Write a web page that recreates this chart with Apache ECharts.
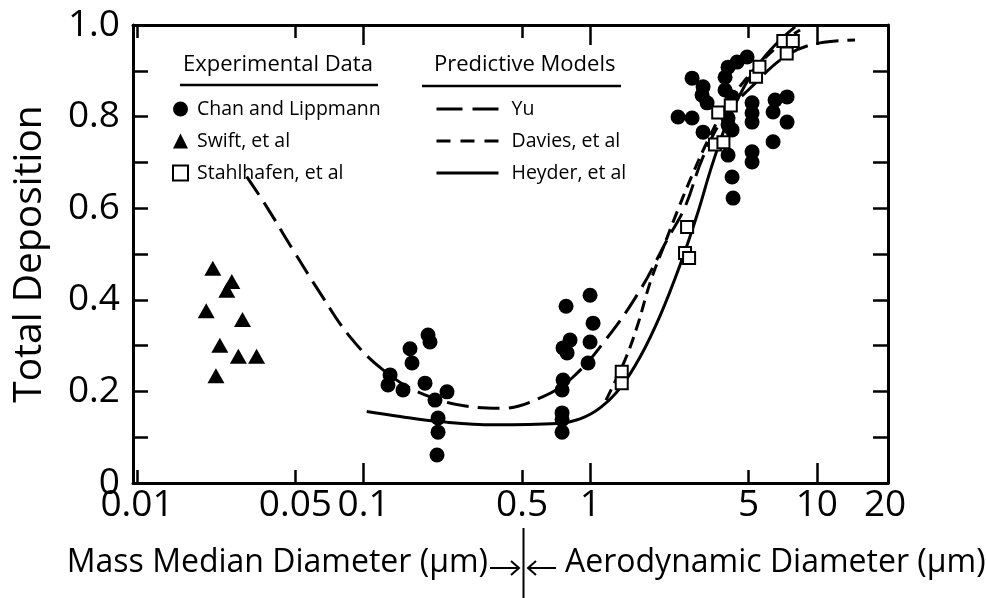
<!DOCTYPE html>
<html><head><meta charset="utf-8">
<script src="https://cdn.jsdelivr.net/npm/echarts@6/dist/echarts.min.js"></script>
<style>html,body{margin:0;padding:0;background:#fff}#c{width:986px;height:598px}</style>
</head><body><div id="c"></div>
<script>
// ---- data (x = particle diameter in µm, y = total deposition fraction) ----
const chanLippmann = [
  [0.1924,0.323],[0.1963,0.308],[0.1602,0.293],[0.1635,0.262],[0.1308,0.236],[0.1281,0.214],
  [0.1492,0.203],[0.1866,0.218],[0.2065,0.181],[0.2333,0.199],[0.2130,0.142],[0.2130,0.111],[0.2108,0.061],
  [0.998,0.410],[0.782,0.386],[1.029,0.349],[0.8145,0.312],[0.7586,0.295],[0.79,0.284],[0.998,0.308],
  [0.978,0.262],[0.7586,0.225],[0.751,0.203],[0.751,0.153],[0.751,0.138],[0.751,0.111],
  [2.814,0.884],[3.146,0.865],[3.114,0.847],[3.277,0.830],[2.44,0.799],[2.814,0.797],[3.146,0.766],
  [4.056,0.908],[4.445,0.919],[4.92,0.930],[3.935,0.886],[3.935,0.858],[4.225,0.843],[4.056,0.797],
  [4.056,0.782],[4.225,0.771],[4.056,0.716],[4.225,0.668],[4.268,0.622],[5.176,0.830],[5.176,0.808],
  [5.176,0.788],[5.176,0.723],[5.176,0.701],[6.54,0.836],[7.388,0.843],[6.409,0.810],[7.388,0.788],[6.409,0.745]
];
const swift = [
  [0.0216,0.469],[0.0262,0.440],[0.0249,0.421],[0.0202,0.376],[0.0292,0.357],
  [0.0232,0.301],[0.0280,0.277],[0.0337,0.277],[0.0223,0.234]
];
const stahlhafen = [
  [1.377,0.243],[1.377,0.218],[2.62,0.502],[2.675,0.559],[2.73,0.491],
  [3.55,0.739],[3.87,0.744],[3.67,0.809],[4.17,0.824],[5.39,0.887],[5.58,0.909],
  [7.11,0.965],[7.83,0.965],[7.36,0.938]
];
const yuModel = [
  [0.03048,0.669],[0.03735,0.603],[0.0488,0.509],[0.0642,0.415],[0.0871,0.319],[0.1218,0.247],
  [0.1774,0.197],[0.2948,0.1666],[0.4042,0.163],[0.616,0.188],[0.842,0.232],[1.183,0.316],
  [1.659,0.421],[2.183,0.531],[2.62,0.603],[3.146,0.712],[3.935,0.803],[5.074,0.862],
  [7.388,0.934],[10.33,0.961],[14.74,0.967]
];
const daviesModel = [
  [1.174,0.181],[1.424,0.269],[1.609,0.341],[1.836,0.437],[2.096,0.513],[2.416,0.592],
  [2.814,0.672],[3.311,0.749],[3.935,0.819],[4.823,0.880],[5.907,0.928],[7.24,0.967],[8.43,0.989]
];
const heyderModel = [
  [0.1032,0.156],[0.1447,0.145],[0.2174,0.134],[0.3751,0.127],[0.7174,0.130],[0.9016,0.140],
  [1.105,0.164],[1.354,0.207],[1.659,0.275],[2.032,0.365],[2.491,0.476],[2.96,0.585],
  [3.448,0.694],[4.056,0.793],[4.823,0.869],[5.731,0.924],[6.743,0.963],[8.013,0.996]
];
const xTickLabels = [0.01,0.05,0.1,0.5,1,5,10,20];
const xMajorTicks = [0.1,1,10];
const xMinorTicks = [0.01,0.05,0.5,5];
const yTickLabels = [0,0.2,0.4,0.6,0.8,1.0];

const FONT = '"Open Sans", "DejaVu Sans", sans-serif';
const chart = echarts.init(document.getElementById('c'), null, {renderer:'canvas'});

const xBase = {type:'log', logBase:10, min:0.0096, max:20.6, splitLine:{show:false}};
const lineStyleAxis = {color:'#000', width:3};
const hiddenSymbol = {color:'rgba(0,0,0,0)', borderColor:'rgba(0,0,0,0)', borderWidth:0, opacity:0};

const option = {
  backgroundColor:'#fff',
  animation:false,
  grid:{left:133, right:98, top:25, bottom:115, containLabel:false},
  xAxis:[
    Object.assign({}, xBase, {position:'bottom',
      axisLine:{lineStyle:lineStyleAxis},
      axisTick:{inside:true, length:20, lineStyle:{color:'#000', width:2.5}, customValues:xMajorTicks},
      axisLabel:{customValues:xTickLabels, color:'#000', fontSize:37, fontFamily:FONT, margin:4,
        formatter:v => String(+(+v).toPrecision(3))}}),
    Object.assign({}, xBase, {position:'bottom',
      axisLine:{show:false},
      axisTick:{inside:true, length:13, lineStyle:{color:'#000', width:2.5}, customValues:xMinorTicks},
      axisLabel:{show:false}}),
    Object.assign({}, xBase, {position:'top',
      axisLine:{lineStyle:lineStyleAxis},
      axisTick:{inside:true, length:20, lineStyle:{color:'#000', width:2.5}, customValues:xMajorTicks},
      axisLabel:{show:false}}),
    Object.assign({}, xBase, {position:'top',
      axisLine:{show:false},
      axisTick:{inside:true, length:13, lineStyle:{color:'#000', width:2.5}, customValues:xMinorTicks},
      axisLabel:{show:false}})
  ],
  yAxis:[
    {type:'value', min:0, max:1, interval:0.1, position:'left',
      splitLine:{show:false},
      axisLine:{lineStyle:lineStyleAxis},
      axisTick:{inside:true, length:15, lineStyle:{color:'#000', width:2.5}},
      axisLabel:{customValues:yTickLabels, color:'#000', fontSize:37, fontFamily:FONT, margin:13,
        formatter:v => (v === 0 ? '0' : (+v).toFixed(1))},
      name:'Total Deposition', nameLocation:'middle', nameGap:84, nameRotate:90,
      nameTextStyle:{color:'#000', fontSize:39, fontFamily:FONT}},
    {type:'value', min:0, max:1, interval:0.1, position:'right',
      splitLine:{show:false},
      axisLine:{lineStyle:lineStyleAxis},
      axisTick:{inside:true, length:15, lineStyle:{color:'#000', width:2.5}},
      axisLabel:{show:false}}
  ],
  legend:[
    {orient:'vertical', left:167, top:94, itemWidth:15, itemHeight:15, itemGap:12,
      textStyle:{color:'#000', fontSize:19.5, fontFamily:FONT, padding:[0,0,0,4]},
      data:[
        {name:'Chan and Lippmann', itemStyle:{color:'#000', opacity:1}},
        {name:'Swift, et al', itemStyle:{color:'#000', opacity:1}},
        {name:'Stahlhafen, et al', itemStyle:{color:'#fff', borderColor:'#000', borderWidth:2, opacity:1}}
      ]},
    {orient:'vertical', left:430, top:94, itemWidth:62, itemHeight:15, itemGap:12,
      textStyle:{color:'#000', fontSize:19.5, fontFamily:FONT, padding:[0,0,0,8]},
      data:[
        {name:'Yu', lineStyle:{type:[26,10], color:'#000', width:3}, itemStyle:hiddenSymbol},
        {name:'Davies, et al', lineStyle:{type:[14,10], color:'#000', width:3}, itemStyle:hiddenSymbol},
        {name:'Heyder, et al', lineStyle:{type:'solid', color:'#000', width:3}, itemStyle:hiddenSymbol}
      ]}
  ],
  series:[
    {name:'Yu', type:'line', data:yuModel, smooth:0.4, symbol:'none', z:2,
      itemStyle:{color:'#000'},
      lineStyle:{color:'#000', width:3, type:[22,9], cap:'butt'}},
    {name:'Davies, et al', type:'line', data:daviesModel, smooth:0.4, symbol:'none', z:2,
      itemStyle:{color:'#000'},
      lineStyle:{color:'#000', width:3, type:[12,7], cap:'butt'}},
    {name:'Heyder, et al', type:'line', data:heyderModel, smooth:0.4, symbol:'none', z:2,
      itemStyle:{color:'#000'},
      lineStyle:{color:'#000', width:3, type:'solid'}},
    {name:'Chan and Lippmann', type:'scatter', data:chanLippmann, symbol:'circle', symbolSize:15, z:4,
      itemStyle:{color:'#000', opacity:1}},
    {name:'Swift, et al', type:'scatter', data:swift, symbol:'triangle', symbolSize:[17,15], z:4,
      itemStyle:{color:'#000', opacity:1}},
    {name:'Stahlhafen, et al', type:'scatter', data:stahlhafen, symbol:'rect', symbolSize:12, z:5,
      itemStyle:{color:'#fff', borderColor:'#000', borderWidth:2, opacity:1}}
  ],
  graphic:[
    {type:'text', left:183, top:54, style:{text:'Experimental Data', fill:'#000', font:'22px ' + FONT}},
    {type:'line', shape:{x1:180, y1:85, x2:378, y2:85}, style:{stroke:'#000', lineWidth:2.5}},
    {type:'text', left:434, top:54, style:{text:'Predictive Models', fill:'#000', font:'22px ' + FONT}},
    {type:'line', shape:{x1:422, y1:86, x2:621, y2:86}, style:{stroke:'#000', lineWidth:2.5}},
    {type:'text', right:986-488, top:547, style:{text:'Mass Median Diameter (µm)', fill:'#000', font:'32px ' + FONT}},
    {type:'line', shape:{x1:490, y1:568, x2:519, y2:568}, style:{stroke:'#000', lineWidth:2}},
    {type:'polyline', shape:{points:[[511,561],[519,568],[511,575]]}, style:{stroke:'#000', lineWidth:2, fill:null}},
    {type:'line', shape:{x1:523.5, y1:528, x2:523.5, y2:598}, style:{stroke:'#000', lineWidth:2}},
    {type:'line', shape:{x1:528, y1:568, x2:556, y2:568}, style:{stroke:'#000', lineWidth:2}},
    {type:'polyline', shape:{points:[[536,561],[528,568],[536,575]]}, style:{stroke:'#000', lineWidth:2, fill:null}},
    {type:'text', left:565, top:547, style:{text:'Aerodynamic Diameter (µm)', fill:'#000', font:'32px ' + FONT}}
  ]
};
chart.setOption(option);
</script>
</body></html>
